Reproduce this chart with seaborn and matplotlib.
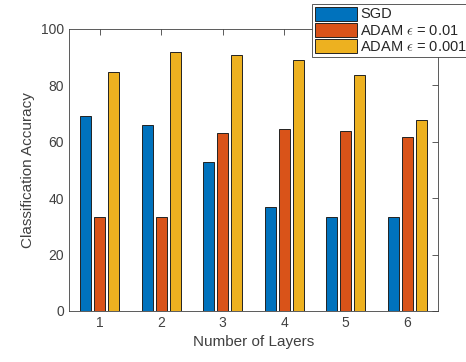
import pandas as pd
import matplotlib
matplotlib.use("Agg")
import matplotlib.pyplot as plt
import seaborn as sns

# ========== DATA ==========
layers = ["1", "2", "3", "4", "5", "6"]
sgd = [69.0, 66.0, 52.8, 36.9, 33.3, 33.3]
adam_01 = [33.3, 33.3, 63.2, 64.4, 63.7, 61.7]
adam_001 = [84.7, 91.8, 90.9, 88.9, 83.6, 67.6]
labels = ["SGD", r"ADAM $\epsilon$ = 0.01", r"ADAM $\epsilon$ = 0.001"]
colors = ["#0072BD", "#D95319", "#EDB120"]

df = pd.DataFrame({
    "layers": layers * 3,
    "acc": sgd + adam_01 + adam_001,
    "method": [labels[0]] * 6 + [labels[1]] * 6 + [labels[2]] * 6,
})

# ========== PLOT ==========
sns.set_style("white")
plt.rcParams["font.family"] = ["Liberation Sans", "DejaVu Sans"]
plt.rcParams["mathtext.fontset"] = "cm"

fig = plt.figure(figsize=(4.66, 3.62), dpi=100)
ax = fig.add_axes([0.148, 0.141, 0.792, 0.779])

sns.barplot(data=df, x="layers", y="acc", hue="method", palette=colors,
            width=0.675, gap=0.2, edgecolor="#222222", linewidth=0.7,
            saturation=1, ax=ax)

ax.set_xlim(-0.5, 5.5)
ax.set_ylim(0, 100)
ax.set_yticks([0, 20, 40, 60, 80, 100])
ax.set_xlabel("Number of Layers", fontsize=11, color="#404040")
ax.set_ylabel("Classification Accuracy", fontsize=11, color="#404040")
ax.tick_params(direction="in", length=4, width=0.6, colors="#404040",
               labelsize=10, top=True, right=True)
for s in ax.spines.values():
    s.set_color("#404040")
    s.set_linewidth(0.6)

handles, _ = ax.get_legend_handles_labels()
ax.get_legend().remove()
leg = fig.legend(handles, labels, loc="upper right", bbox_to_anchor=(1.008, 0.99),
                 fontsize=10.5, handlelength=2.9, handleheight=1.1,
                 handletextpad=0.2, labelspacing=0.08, borderpad=0.2,
                 borderaxespad=0.0, fancybox=False, framealpha=1,
                 edgecolor="#404040")
leg.get_frame().set_linewidth(0.6)

fig.savefig("out.png", dpi=100)
